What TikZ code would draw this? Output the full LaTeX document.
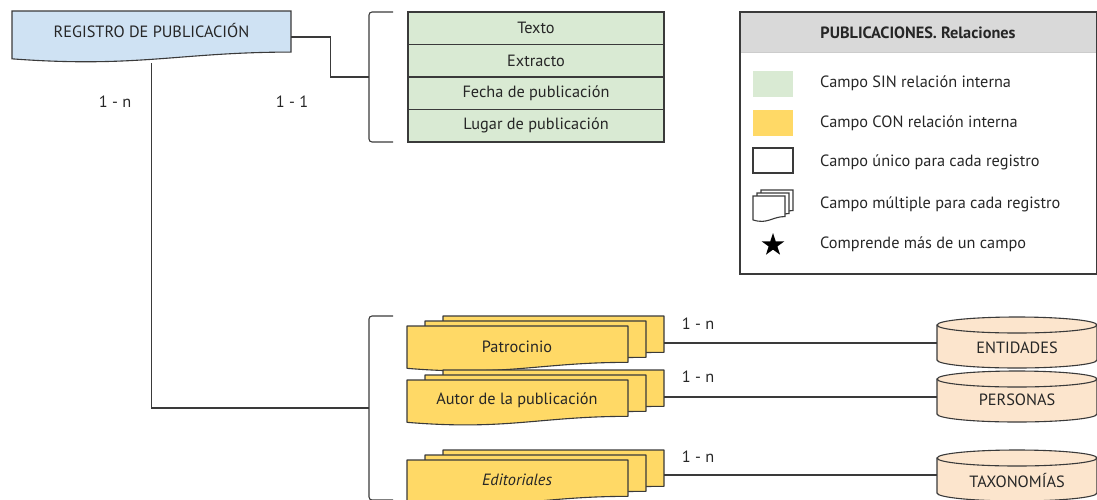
\documentclass[tikz,border=0pt]{standalone}
\usepackage{fontspec}
\setmainfont{PT Sans}
\usetikzlibrary{shapes.geometric,calc}
\definecolor{cgreen}{HTML}{D9EAD3}
\definecolor{cyellow}{HTML}{FFD966}
\definecolor{cblue}{HTML}{CFE2F3}
\definecolor{cpeach}{HTML}{FCE5CD}
\definecolor{cgray}{HTML}{D9D9D9}
\definecolor{cline}{HTML}{3A3A3A}
% document shape: x, top, width, height, style
\newcommand\docshp[5]{%
  \draw[#5] ({#1},{-(#2)}) -- ({#1+#3},{-(#2)}) -- ({#1+#3},{-(#2)-0.79*#4})
    .. controls ({#1+0.6*#3},{-(#2)-0.79*#4}) and ({#1+0.45*#3},{-(#2)-1.1*#4}) ..
    ({#1},{-(#2)-0.92*#4}) -- cycle;}
\newcommand\multidoc[4]{%
  \docshp{#1+36}{#2-10}{#3}{#4}{yellowdoc}
  \docshp{#1+18}{#2-5}{#3}{#4}{yellowdoc}
  \docshp{#1}{#2}{#3}{#4}{yellowdoc}}
% cylinder: x, top, width, height
\newcommand\cyl[4]{%
  \draw[cylstyle] (#1,{-#2-8}) -- (#1,{-#2-#4+8})
     arc[start angle=180,end angle=360,x radius={#3/2},y radius=8]
     -- ({#1+#3},{-#2-8})
     arc[start angle=0,end angle=180,x radius={#3/2},y radius=8] -- cycle;
  \draw[cline, line width=1.1pt] (#1,{-#2-8}) arc[start angle=180,end angle=360,x radius={#3/2},y radius=8];}
\tikzset{
  txt/.style={font=\fontsize{16.3}{18}\selectfont, text=black!85, inner sep=0pt},
  yellowdoc/.style={draw=cline, fill=cyellow, line width=1.1pt, line join=round},
  cylstyle/.style={draw=cline, fill=cpeach, line width=1.1pt},
  conn/.style={draw=cline, line width=1.1pt},
  ghost/.style={inner sep=0pt, draw=none},
  row/.style={draw=cline, fill=cgreen, line width=1.1pt, minimum width=256pt, minimum height=32.5pt, inner sep=0pt, txt},
}
\begin{document}
\begin{tikzpicture}[x=1pt,y=1pt]
\useasboundingbox (0,0) rectangle (1097,-499);

% Registro
\docshp{12}{11}{279}{52}{draw=cline, fill=cblue, line width=1.1pt}
\node[ghost, minimum width=279pt, minimum height=52pt] (reg) at (151.5,-37) {};
\node[txt] (regt) at (151.5,-31) {REGISTRO DE PUBLICACIÓN};

% Top brace
\draw[conn, rounded corners=3pt] (393,-12) -- (369,-12) -- (369,-142) -- (393,-142);
\coordinate (b1) at (369,-77);
\draw[conn] (reg.east) -- ++(39,0) |- (b1);

% Green table
\node[row] (texto) at (536,-28.25) {Texto};
\node[row] (extr) at (536,-60.75) {Extracto};
\node[row] (fecha) at (536,-93.25) {Fecha de publicación};
\node[row] (lugar) at (536,-125.75) {Lugar de publicación};

% Labels
\node[txt] (l1) at (115,-102) {1 - n};
\node[txt] (l2) at (292,-102) {1 - 1};

% Lower brace
\draw[conn, rounded corners=3pt] (393,-316) -- (369,-316) -- (369,-500) -- (393,-500);
\coordinate (b2) at (369,-408);
\draw[conn] (reg.south) |- (b2);

% Multi docs
\multidoc{407}{326}{221}{46}
\node[txt] (patro) at (517,-347) {Patrocinio};
\multidoc{407}{380}{221}{46}
\node[txt] (autor) at (517,-400) {Autor de la publicación};
\multidoc{407}{460}{221}{46}
\node[txt] (edit) at (517,-480) {\itshape Editoriales};

\coordinate (patR) at (664,-343);
\coordinate (autR) at (664,-397);
\coordinate (ediR) at (664,-475);

% Cylinders
\cyl{937}{317}{160}{51}
\node[ghost, minimum width=160pt, minimum height=51pt] (ent) at (1017,-342.5) {};
\node[txt] (entt) at (1017,-348) {ENTIDADES};
\cyl{937}{371}{160}{51}
\node[ghost, minimum width=160pt, minimum height=51pt] (per) at (1017,-396.5) {};
\node[txt] (pert) at (1017,-400) {PERSONAS};
\cyl{937}{450}{160}{51}
\node[ghost, minimum width=160pt, minimum height=51pt] (tax) at (1017,-475.5) {};
\node[txt] (taxt) at (1017,-480) {TAXONOMÍAS};

\draw[conn] (patR) -- (patR -| ent.west);
\draw[conn] (autR) -- (autR -| per.west);
\draw[conn] (ediR) -- (ediR -| tax.west);

\node[txt] (n1) at (698,-324) {1 - n};
\node[txt] (n2) at (698,-377) {1 - n};
\node[txt] (n3) at (698,-457) {1 - n};

% Legend
\draw[fill=cgray, draw=none] (740,-12) rectangle (1096.5,-52);
\draw[black!20, line width=0.8pt] (740,-52) -- (1096.5,-52);
\draw[conn] (740,-12) rectangle (1096.5,-274);
\node[txt, font=\fontsize{16.3}{18}\selectfont\bfseries] (legt) at (918,-33) {PUBLICACIONES. Relaciones};
\node[fill=cgreen, minimum width=40pt, minimum height=26pt, inner sep=0pt] (sw1) at (773,-84) {};
\node[fill=cyellow, minimum width=40pt, minimum height=26pt, inner sep=0pt] (sw2) at (773,-122.5) {};
\node[draw=cline, line width=1.1pt, minimum width=40pt, minimum height=25pt, inner sep=0pt] (sw3) at (773,-160.5) {};
\docshp{761}{190}{32}{26}{draw=cline, fill=white, line width=1.1pt}
\docshp{757}{193}{32}{26}{draw=cline, fill=white, line width=1.1pt}
\docshp{753}{196}{32}{26}{draw=cline, fill=white, line width=1.1pt}
\node[star, star points=5, star point ratio=2.6, fill=black, minimum size=24pt, inner sep=0pt] (sw5) at (773,-245) {};
\node[txt, anchor=west] (lg1) at (820,-83) {Campo SIN relación interna};
\node[txt, anchor=west] (lg2) at (820,-123) {Campo CON relación interna};
\node[txt, anchor=west] (lg3) at (820,-162) {Campo único para cada registro};
\node[txt, anchor=west] (lg4) at (820,-204) {Campo múltiple para cada registro};
\node[txt, anchor=west] (lg5) at (820,-244) {Comprende más de un campo};
\end{tikzpicture}
\end{document}
